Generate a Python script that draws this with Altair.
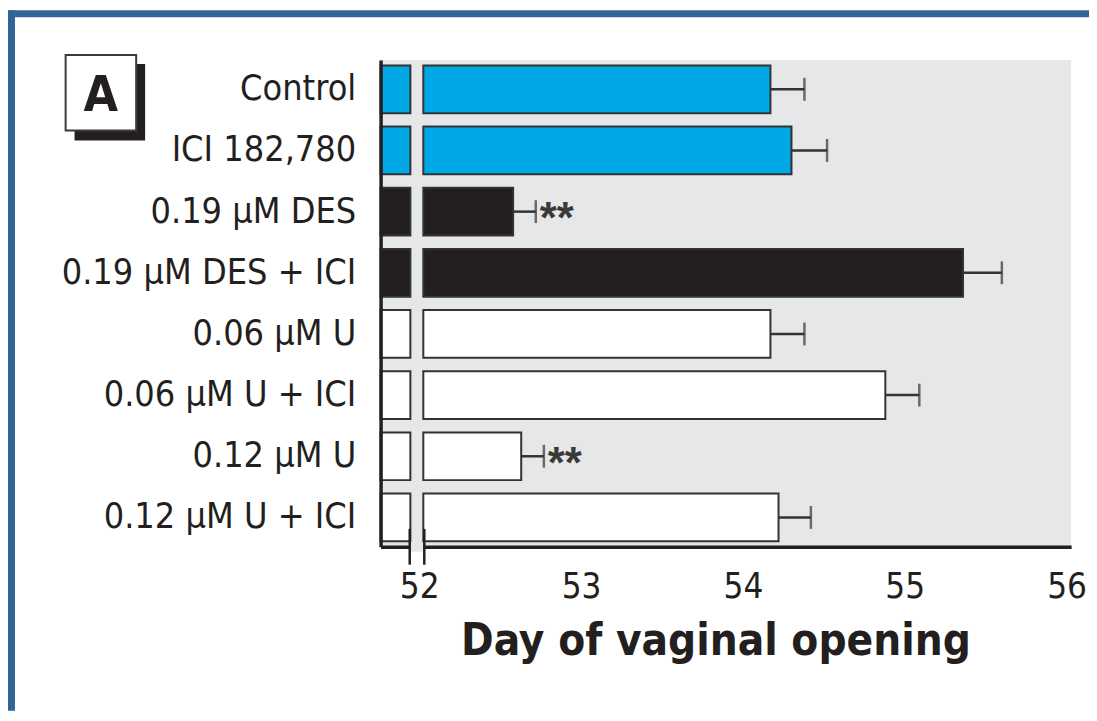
import altair as alt
import pandas as pd

# ---- data ----
categories = ["Control", "ICI 182,780", "0.19 μM DES", "0.19 μM DES + ICI",
              "0.06 μM U", "0.06 μM U + ICI", "0.12 μM U", "0.12 μM U + ICI"]
means = [54.17, 54.30, 52.58, 55.36, 54.17, 54.88, 52.63, 54.22]
errors = [0.21, 0.22, 0.14, 0.24, 0.21, 0.21, 0.14, 0.20]
groups = ["Control", "Control", "DES", "DES", "U", "U", "U", "U"]
stars = ["", "", "**", "", "", "", "**", ""]
tick_values = [52, 53, 54, 55, 56]

X_DOMAIN = [51.761, 56.028]
BREAK = [51.945, 52.025]          # axis break (gap in the bars)
BREAK_MARKS = [51.941, 52.031]    # the two break ticks on the axis

group_names = ["Control", "DES", "U"]
group_colors = ["#00a9e6", "#231f20", "#ffffff"]

FONT = "DejaVu Sans Condensed, Liberation Sans Narrow, sans-serif"
INK = "#231f20"
EDGE = "#333333"
BG = "#e6e7e8"
FRAME = "#316597"

df = pd.DataFrame({"cat": categories, "mean": means, "err": errors,
                   "group": groups, "star": stars})
one = pd.DataFrame({"k": [0]})
brk = pd.DataFrame({"b": BREAK_MARKS})

xscale = alt.Scale(domain=X_DOMAIN, zero=False, nice=False)
xaxis = alt.Axis(values=tick_values, ticks=False, tickSize=0, grid=False,
                 domainWidth=3.5, domainColor=INK, labelFont=FONT,
                 labelFontSize=35, labelColor=INK, labelPadding=23,
                 labelFlush=False, labelOverlap=False,
                 title="Day of vaginal opening", titleFont=FONT,
                 titleFontSize=44, titleFontWeight="bold", titleColor=INK,
                 titleX=337, titleY=108, titleBaseline="alphabetic", zindex=0)
yscale = alt.Scale(domain=categories, paddingInner=0.22, paddingOuter=0.09)
yaxis = alt.Axis(title=None, ticks=False, tickSize=0, grid=False,
                 domainWidth=3.5, domainColor=INK, labelFont=FONT,
                 labelFontSize=36, labelColor=INK, labelPadding=25,
                 labelLimit=600, zindex=1)

Y = alt.Y("cat:N", sort=categories, scale=yscale, axis=yaxis)
fill = alt.Fill("group:N", scale=alt.Scale(domain=group_names, range=group_colors),
                legend=None)

base = alt.Chart(df)

# bar pieces left of the break
bars_left = base.mark_bar(stroke=EDGE, strokeWidth=2).encode(
    x=alt.XDatum(BREAK[0], type="quantitative", scale=xscale, axis=xaxis),
    x2=alt.value(0),
    y=Y, fill=fill)

# bar pieces right of the break
bars_right = base.mark_bar(stroke=EDGE, strokeWidth=2).encode(
    x=alt.X("mean:Q", scale=xscale, axis=xaxis),
    x2=alt.X2Datum(BREAK[1]),
    y=Y, fill=fill)

err_base = base.transform_calculate(hi="datum.mean + datum.err")
err_line = err_base.mark_rule(color=EDGE, strokeWidth=2.5).encode(
    x=alt.X("mean:Q", scale=xscale, axis=xaxis), x2="hi:Q", y=Y)
err_cap = err_base.mark_tick(color=EDGE, thickness=2.5, size=23).encode(
    x=alt.X("hi:Q", scale=xscale, axis=xaxis), y=Y)
star_text = err_base.mark_text(align="left", baseline="middle", dx=4, dy=9,
                               font="Liberation Sans, Arial, sans-serif",
                               fontSize=44, fontWeight="bold",
                               color="#3a3a3a").encode(
    x=alt.X("hi:Q", scale=xscale, axis=xaxis), y=Y, text="star:N")

# gap in the x axis line at the break
stripe = alt.Chart(one).mark_rect(color=BG).encode(
    x=alt.XDatum(BREAK[0], type="quantitative", scale=xscale, axis=xaxis),
    x2=alt.X2Datum(BREAK[1]),
    y=alt.value(486), y2=alt.value(495))

break_ticks = alt.Chart(brk).mark_rule(color=INK, strokeWidth=2.5).encode(
    x=alt.X("b:Q", scale=xscale, axis=xaxis),
    y=alt.value(472), y2=alt.value(508))

# blue page frame (left and top edges)
frame_left = alt.Chart(one).mark_rect(color=FRAME).encode(
    x=alt.value(-375), x2=alt.value(-368), y=alt.value(-50), y2=alt.value(655))
frame_top = alt.Chart(one).mark_rect(color=FRAME).encode(
    x=alt.value(-375), x2=alt.value(714), y=alt.value(-50), y2=alt.value(-43))

# panel label "A" box with drop shadow
shadow = alt.Chart(one).mark_rect(color=INK).encode(
    x=alt.value(-308), x2=alt.value(-237), y=alt.value(4), y2=alt.value(81))
box = alt.Chart(one).mark_rect(fill="white", stroke="#3a3a3a", strokeWidth=2).encode(
    x=alt.value(-317), x2=alt.value(-246), y=alt.value(-5), y2=alt.value(71))
letter = alt.Chart(one).mark_text(text="A", font=FONT, fontSize=50,
                                  fontWeight="bold", color=INK,
                                  align="center", baseline="alphabetic").encode(
    x=alt.value(-281.5), y=alt.value(51))

chart = alt.layer(
    bars_left, bars_right, err_line, err_cap, star_text, stripe, break_ticks,
    frame_left, frame_top, shadow, box, letter
).properties(
    width=695, height=490,
    autosize=alt.AutoSizeParams(type="none"),
    padding={"left": 375, "top": 50, "right": 18, "bottom": 165},
    background="white",
).configure_view(fill=BG, strokeWidth=0)

chart.save("out.html", embed_options={"renderer": "svg", "actions": False})
